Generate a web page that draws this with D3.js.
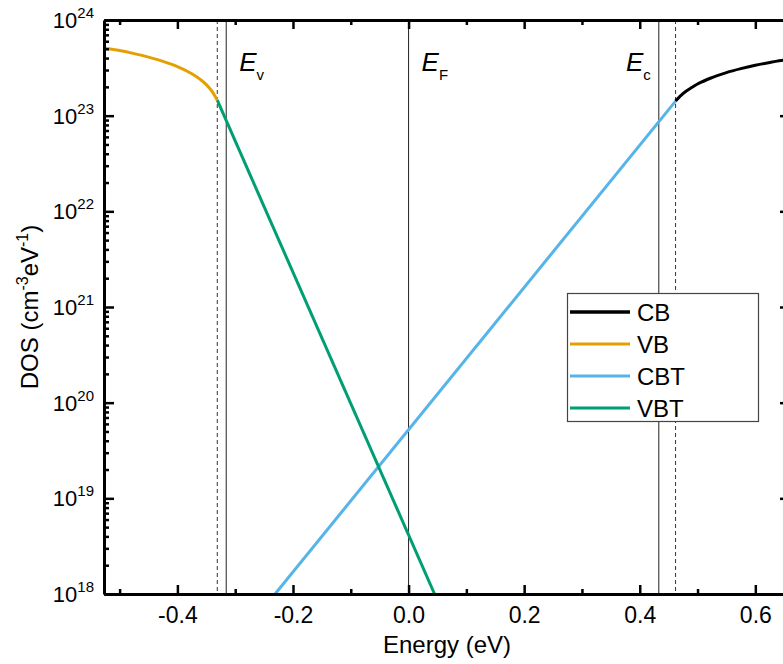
<!DOCTYPE html>
<html><head><meta charset="utf-8">
<script src="https://cdn.jsdelivr.net/npm/d3@7"></script>
<style>
body{margin:0;background:#fff}
svg{display:block}
text{font-family:"Liberation Sans",Arial,Helvetica,sans-serif;fill:#000}
</style>
</head><body>
<svg id="c" width="783" height="664"></svg>
<script>
// ---- data ----
const vbEnergy = [-0.527, -0.50, -0.475, -0.45, -0.425, -0.40, -0.375, -0.36, -0.35, -0.34, -0.331];
const vbDOS    = [5.1e23, 4.79e23, 4.45e23, 4.09e23, 3.70e23, 3.26e23, 2.74e23, 2.38e23, 2.11e23, 1.79e23, 1.45e23];
const cbEnergy = [0.462, 0.47, 0.48, 0.49, 0.50, 0.525, 0.55, 0.575, 0.60, 0.625, 0.66];
const cbDOS    = [1.42e23, 1.60e23, 1.80e23, 1.97e23, 2.14e23, 2.50e23, 2.82e23, 3.10e23, 3.36e23, 3.60e23, 3.88e23];
const cbtEnergy = [-0.231, 0.462];
const cbtDOS    = [1e18, 1.42e23];
const vbtEnergy = [-0.331, 0.045];
const vbtDOS    = [1.45e23, 1e18];
const dashedLevels = [-0.331, 0.462];
const solidLevels  = [-0.3155, 0, 0.433];
const levelLabels  = [{e:-0.3155, main:"E", sub:"v", side:1}, {e:0, main:"E", sub:"F", side:1}, {e:0.433, main:"E", sub:"c", side:-1}];
const xTicks = [-0.4, -0.2, 0.0, 0.2, 0.4, 0.6];
const xMinorTicks = [-0.5, -0.3, -0.1, 0.1, 0.3, 0.5];
const yExponents = [18, 19, 20, 21, 22, 23, 24];
const seriesNames = ["CB", "VB", "CBT", "VBT"];
const seriesColors = ["#000000", "#E69F00", "#56B4E9", "#009E73"];

// ---- layout ----
const L = 104, R = 790, T = 20, B = 594;
const svg = d3.select("#c");
const x = d3.scaleLinear().domain([-0.527, 0.66]).range([L, R]);
const y = d3.scaleLog().domain([1e18, 1e24]).range([B, T]);

svg.append("defs").append("clipPath").attr("id","clip")
  .append("rect").attr("x",L).attr("y",T).attr("width",R-L).attr("height",B-T);

const plot = svg.append("g").attr("clip-path","url(#clip)");

// level lines
plot.selectAll(".dl").data(dashedLevels).join("line")
  .attr("x1",d=>x(d)).attr("x2",d=>x(d)).attr("y1",T).attr("y2",B)
  .attr("stroke","#333").attr("stroke-width",1).attr("stroke-dasharray","4,3");
plot.selectAll(".sl").data(solidLevels).join("line")
  .attr("x1",d=>x(d)).attr("x2",d=>x(d)).attr("y1",T).attr("y2",B)
  .attr("stroke","#222").attr("stroke-width",1);

// series
const line = d3.line().x(d=>x(d[0])).y(d=>y(d[1])).curve(d3.curveMonotoneX);
const series = [
  {e:cbEnergy, v:cbDOS, c:seriesColors[0]},
  {e:vbEnergy, v:vbDOS, c:seriesColors[1]},
  {e:cbtEnergy, v:cbtDOS, c:seriesColors[2]},
  {e:vbtEnergy, v:vbtDOS, c:seriesColors[3]}
];
[series[2], series[3], series[1], series[0]].forEach(s=>{
  plot.append("path").datum(d3.zip(s.e, s.v))
    .attr("d", line).attr("fill","none").attr("stroke", s.c).attr("stroke-width",3);
});

// axes
function styleAxis(g){
  g.select(".domain").attr("stroke","#000").attr("stroke-width",3);
  g.selectAll(".tick line").attr("stroke","#000").attr("stroke-width",2.5);
}
const minorY = [];
yExponents.slice(0,-1).forEach(p=>{ for(let k=2;k<=9;k++) minorY.push(k*Math.pow(10,p)); });
const majorY = yExponents.map(p=>Math.pow(10,p));

// bottom
const gb = svg.append("g").attr("transform",`translate(0,${B})`)
  .call(d3.axisBottom(x).tickValues(xTicks).tickSize(-9).tickSizeOuter(0).tickPadding(12.5)
    .tickFormat(d=>d3.format(".1f")(d).replace("−","-")));
styleAxis(gb);
gb.selectAll(".tick text").attr("font-size",23).attr("font-family","Liberation Sans, Arial, sans-serif").attr("fill","#000");
const gbm = svg.append("g").attr("transform",`translate(0,${B})`)
  .call(d3.axisBottom(x).tickValues(xMinorTicks).tickSize(-5).tickSizeOuter(0).tickFormat(""));
styleAxis(gbm); gbm.select(".domain").remove();

// top
const gt = svg.append("g").attr("transform",`translate(0,${T})`)
  .call(d3.axisTop(x).tickValues(xTicks).tickSize(-9).tickSizeOuter(0).tickFormat(""));
styleAxis(gt);
const gtm = svg.append("g").attr("transform",`translate(0,${T})`)
  .call(d3.axisTop(x).tickValues(xMinorTicks).tickSize(-5).tickSizeOuter(0).tickFormat(""));
styleAxis(gtm); gtm.select(".domain").remove();

// left
const gl = svg.append("g").attr("transform",`translate(${L},0)`)
  .call(d3.axisLeft(y).tickValues(majorY).tickSize(-10).tickSizeOuter(0).tickFormat(""));
styleAxis(gl);
const glm = svg.append("g").attr("transform",`translate(${L},0)`)
  .call(d3.axisLeft(y).tickValues(minorY).tickSize(-5).tickSizeOuter(0).tickFormat(""));
styleAxis(glm); glm.select(".domain").remove();

// right
const gr = svg.append("g").attr("transform",`translate(${R},0)`)
  .call(d3.axisRight(y).tickValues(majorY).tickSize(-10).tickSizeOuter(0).tickFormat(""));
styleAxis(gr);
const grm = svg.append("g").attr("transform",`translate(${R},0)`)
  .call(d3.axisRight(y).tickValues(minorY).tickSize(-5).tickSizeOuter(0).tickFormat(""));
styleAxis(grm); grm.select(".domain").remove();

// y tick labels 10^n
yExponents.forEach(p=>{
  const t = svg.append("text").attr("x",94).attr("y",y(Math.pow(10,p))+8).attr("text-anchor","end");
  t.append("tspan").attr("font-size",22).text("10");
  t.append("tspan").attr("font-size",15).attr("dy",-10).text(p);
});

// axis titles
svg.append("text").attr("x",(L+R)/2).attr("y",653).attr("text-anchor","middle")
  .attr("font-size",24).text("Energy (eV)");
const yt = svg.append("text").attr("transform",`translate(38,${(T+B)/2}) rotate(-90)`)
  .attr("text-anchor","middle").attr("font-size",24);
yt.append("tspan").text("DOS (cm");
yt.append("tspan").attr("font-size",16).attr("dy",-10).text("-3");
yt.append("tspan").attr("dy",10).text("eV");
yt.append("tspan").attr("font-size",16).attr("dy",-10).text("-1");
yt.append("tspan").attr("dy",10).text(")");

// level labels
levelLabels.forEach(l=>{
  const t = svg.append("text").attr("y",71).attr("font-size",26)
    .attr("x", l.side>0 ? x(l.e)+13 : x(l.e)-8).attr("text-anchor", l.side>0 ? "start":"end");
  t.append("tspan").attr("font-style","italic").text(l.main);
  t.append("tspan").attr("font-size",15).attr("dy",9).text(l.sub);
});

// legend
const lg = svg.append("g");
lg.append("rect").attr("x",567.5).attr("y",293.5).attr("width",191).attr("height",128)
  .attr("fill","#fff").attr("stroke","#444").attr("stroke-width",1.2);
seriesNames.forEach((n,i)=>{
  const yy = 312 + i*32;
  lg.append("line").attr("x1",570).attr("x2",630).attr("y1",yy).attr("y2",yy)
    .attr("stroke",seriesColors[i]).attr("stroke-width", i===0?3.5:3);
  lg.append("text").attr("x",637).attr("y",yy+9).attr("font-size",24).text(n);
});
</script>
</body></html>
